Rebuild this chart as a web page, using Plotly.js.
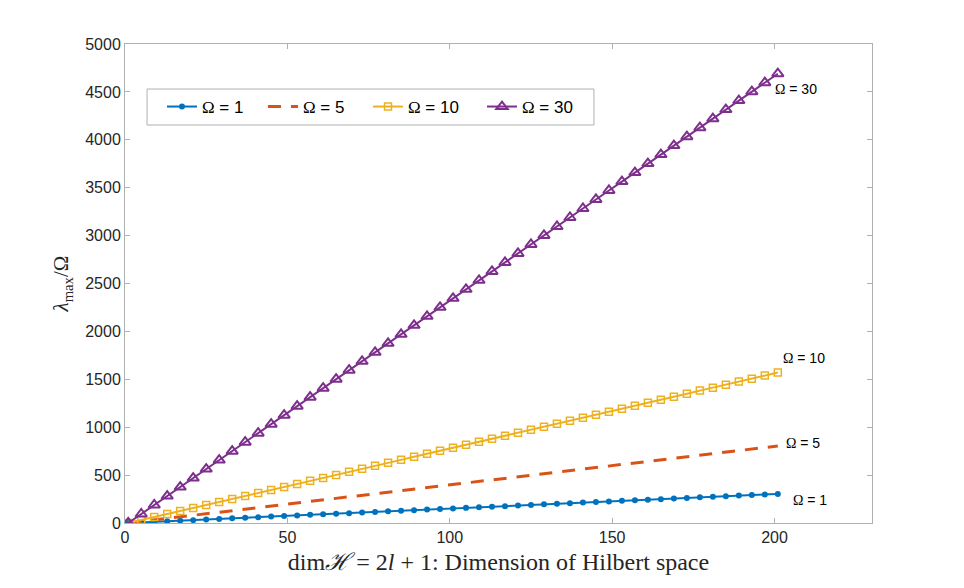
<!DOCTYPE html>
<html>
<head>
<meta charset="utf-8">
<script src="https://cdn.plot.ly/plotly-3.0.1.min.js"></script>
<style>html,body{margin:0;padding:0;background:#fff;}#chart{width:964px;height:588px;}</style>
</head>
<body>
<div id="chart"></div>
<script>
const dims = [1,5,9,13,17,21,25,29,33,37,41,45,49,53,57,61,65,69,73,77,81,85,89,93,97,101,105,109,113,117,121,125,129,133,137,141,145,149,153,157,161,165,169,173,177,181,185,189,193,197,201];
const omega1 = [0,6,12,18,24,30,36,43,49,55,61,67,73,79,85,91,97,103,109,116,122,128,134,140,146,152,158,164,170,176,182,188,195,201,207,213,219,225,231,237,243,249,255,261,268,274,280,286,292,298,304];
const omega5 = [0,16,32,48,64,80,96,113,129,145,161,177,193,209,225,241,257,273,289,306,322,338,354,370,386,402,418,434,450,466,482,498,515,531,547,563,579,595,611,627,643,659,675,691,708,724,740,756,772,788,804];
const omega10 = [0,31,63,94,126,157,188,220,251,283,314,345,377,408,440,471,502,534,565,597,628,659,691,722,754,785,816,848,879,911,942,973,1005,1036,1068,1099,1130,1162,1193,1225,1256,1287,1319,1350,1382,1413,1444,1476,1507,1539,1570];
const omega30 = [0,94,188,281,375,469,563,657,750,844,938,1032,1126,1219,1313,1407,1501,1595,1688,1782,1876,1970,2064,2157,2251,2345,2439,2533,2626,2720,2814,2908,3002,3095,3189,3283,3377,3471,3564,3658,3752,3846,3940,4033,4127,4221,4315,4409,4502,4596,4690];
const seriesNames = ['Ω = 1','Ω = 5','Ω = 10','Ω = 30'];
const labelPos = [[205,240],[203,835],[202,1722],[199.5,4530]];
const xTicks = [0,50,100,150,200];
const yTicks = [0,500,1000,1500,2000,2500,3000,3500,4000,4500,5000];

const colors = ['#0072BD','#D95319','#EDB120','#7E2F8E'];
function omegaLabel(name){
  return name.replace('Ω', '<span style="font-family:Liberation Serif">Ω</span>');
}
const legendIds = ['legend','legend2','legend3','legend4'];
const legendX = [0.0495, 0.1847, 0.3253, 0.4779];
const traces = [
  {x: dims, y: omega1, name: omegaLabel(seriesNames[0]), mode: 'lines+markers',
   line: {color: colors[0], width: 2}, marker: {symbol: 'circle', size: 6, color: colors[0]}},
  {x: dims, y: omega5, name: omegaLabel(seriesNames[1]), mode: 'lines',
   line: {color: colors[1], width: 3, dash: '13px,10px'}},
  {x: dims, y: omega10, name: omegaLabel(seriesNames[2]), mode: 'lines+markers',
   line: {color: colors[2], width: 2}, marker: {symbol: 'square-open', size: 7, color: colors[2], line: {width: 1.5, color: colors[2]}}},
  {x: dims, y: omega30, name: omegaLabel(seriesNames[3]), mode: 'lines+markers',
   line: {color: colors[3], width: 2}, marker: {symbol: 'triangle-up-open', size: 10, color: colors[3], line: {width: 2, color: colors[3]}}}
];
traces.forEach((t,i)=>{ t.legend = legendIds[i]; t.showlegend = true; });

const annotations = seriesNames.map((n,i)=>({
  x: labelPos[i][0], y: labelPos[i][1], xref: 'x', yref: 'y', text: omegaLabel(n),
  showarrow: false, xanchor: 'left', yanchor: 'middle',
  font: {family: 'Liberation Sans, Arial, sans-serif', size: 14, color: '#000'}
}));
const axisCommon = {
  showline: true, linecolor: '#b0b0b0', linewidth: 1, mirror: 'ticks',
  ticks: 'inside', ticklen: 5, tickcolor: '#b0b0b0', tickwidth: 1,
  showgrid: false, zeroline: false,
  tickfont: {family: 'Liberation Sans, Arial, sans-serif', size: 16, color: '#262626'}
};
const layout = {
  width: 964, height: 588,
  margin: {l: 125, r: 92, t: 44, b: 65},
  paper_bgcolor: '#fff', plot_bgcolor: '#fff',
  showlegend: true,
  xaxis: Object.assign({}, axisCommon, {range: [0, 230], tickvals: xTicks, ticktext: xTicks.map(String),
    title: {text: 'dim<i>ℋ</i> = 2<i>l</i> + 1: Dimension of Hilbert space', standoff: 7,
      font: {family: 'Liberation Serif, serif', size: 24, color: '#262626'}}}),
  yaxis: Object.assign({}, axisCommon, {range: [0, 5000], tickvals: yTicks, ticktext: yTicks.map(String),
    title: {text: '<i>λ</i><sub>max</sub>/Ω', standoff: 10,
      font: {family: 'Liberation Serif, serif', size: 21, color: '#262626'}}}),
  shapes: [{type: 'rect', xref: 'paper', yref: 'paper', x0: 0.0295, x1: 0.6278, y0: 0.8309, y1: 0.906,
    line: {color: '#b0b0b0', width: 1}, fillcolor: '#fff', layer: 'above'}],
  annotations: annotations,
  hovermode: false
};
legendIds.forEach((id,i)=>{
  layout[id] = {orientation: 'h', x: legendX[i], y: 0.8685, xanchor: 'left', yanchor: 'middle',
    borderwidth: 0, bgcolor: 'rgba(0,0,0,0)',
    font: {family: 'Liberation Sans, Arial, sans-serif', size: 17, color: '#000'}};
});
Plotly.newPlot('chart', traces, layout, {displayModeBar: false, staticPlot: true});
</script>
</body>
</html>
